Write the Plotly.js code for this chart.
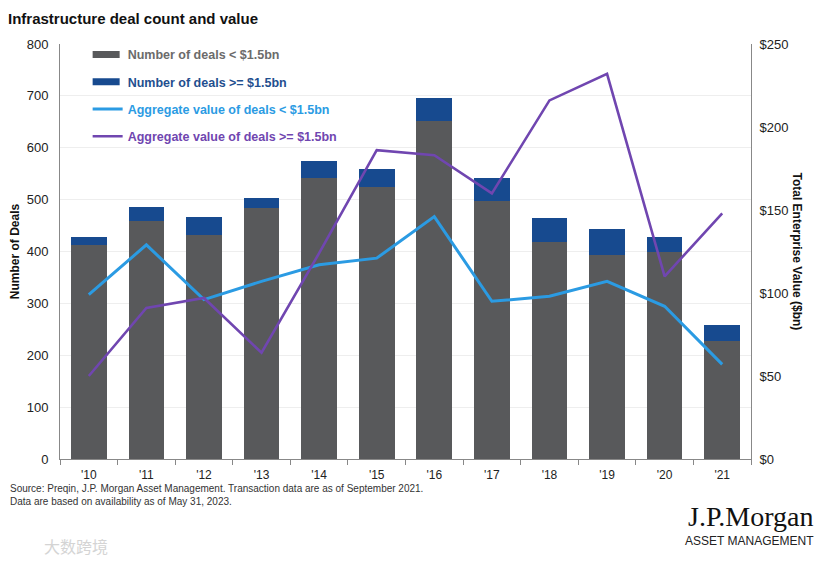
<!DOCTYPE html>
<html><head><meta charset="utf-8">
<script src="https://cdn.plot.ly/plotly-3.0.1.min.js"></script>
<style>body{margin:0;background:#fff}#chart{width:831px;height:563px}</style>
</head><body><div id="chart"></div>
<script>
var years = ["'10","'11","'12","'13","'14","'15","'16","'17","'18","'19","'20","'21"];
var dealsSmall = [413, 459, 432, 484, 541, 524, 652, 497, 419, 393, 400, 227];
var dealsLarge = [14, 27, 35, 20, 34, 36, 44, 45, 45, 50, 28, 31];
var valueSmall = [99, 129, 96, 107, 117, 121, 146, 95, 98, 107, 92, 57];
var valueLarge = [50, 91, 97, 64, 124, 186, 183, 160, 216, 232, 110, 148];

var cGrey = '#58595b', cNavy = '#174a8f', cBlue = '#2b9be3', cPurple = '#7046b0';
function nm(t, c){ return '<b><span style="color:' + c + '">' + t + '</span></b>'; }

var traces = [
  {type:'bar', x:years, y:dealsSmall, name:nm('Number of deals &lt; $1.5bn','#6b6b6b'),
   marker:{color:cGrey}, width:0.62, legendgroup:'a'},
  {type:'bar', x:years, y:dealsLarge, name:nm('Number of deals &gt;= $1.5bn','#1f4f8f'),
   marker:{color:cNavy}, width:0.62, legendgroup:'b'},
  {type:'scatter', mode:'lines', x:years, y:valueSmall, yaxis:'y2', name:nm('Aggregate value of deals &lt; $1.5bn', cBlue),
   line:{color:cBlue, width:3}, legendgroup:'c'},
  {type:'scatter', mode:'lines', x:years, y:valueLarge, yaxis:'y2', name:nm('Aggregate value of deals &gt;= $1.5bn', cPurple),
   line:{color:cPurple, width:2.6}, legendgroup:'d'}
];

var font = 'Liberation Sans, Arial, sans-serif';
var layout = {
  width:831, height:563,
  margin:{l:60, r:80, t:44, b:104},
  paper_bgcolor:'#fff', plot_bgcolor:'#fff',
  barmode:'stack', bargap:0.38,
  font:{family:font, size:13, color:'#222'},
  showlegend:true,
  title:{text:'<b>Infrastructure deal count and value</b>', x:0.0096, xanchor:'left', y:0.966, yanchor:'middle',
         font:{family:font, size:15, color:'#111'}},
  legend:{x:0.04, y:1.01, xanchor:'left', yanchor:'top', bgcolor:'rgba(0,0,0,0)',
          traceorder:'grouped', tracegroupgap:8, font:{family:font, size:12.5}, itemwidth:30},
  xaxis:{type:'category', showline:true, linecolor:'#888', linewidth:1, ticks:'outside', tickson:'boundaries',
         ticklen:5, tickcolor:'#888', tickfont:{size:12, color:'#222'}, showgrid:false, ticklabelstandoff:5},
  yaxis:{range:[0,800], dtick:100, showline:true, linecolor:'#888', linewidth:1, showgrid:true, gridcolor:'#eeeeee',
         zeroline:false, ticks:'', tickfont:{size:13, color:'#222'}, ticklabelstandoff:8,
         title:{text:'<b>Number of Deals</b>', font:{size:12, color:'#111'}, standoff:4}},
  yaxis2:{range:[0,250], dtick:50, overlaying:'y', side:'right', showline:true, linecolor:'#888', linewidth:1,
          showgrid:false, zeroline:false, tickprefix:'$', tickfont:{size:13, color:'#222'}, ticklabelstandoff:5},
  annotations:[
    {text:'<b>Total Enterprise Value ($bn)</b>', textangle:90, xref:'paper', yref:'paper',
     x:(797-60)/691, y:0.5, xanchor:'center', yanchor:'middle', showarrow:false, font:{size:12, color:'#111'}},
    {text:'Source: Preqin, J.P. Morgan Asset Management. Transaction data are as of September 2021.', xref:'paper', yref:'paper',
     x:(8-60)/691, y:(459-488)/415, xanchor:'left', yanchor:'middle', showarrow:false, font:{size:10, color:'#333'}},
    {text:'Data are based on availability as of May 31, 2023.', xref:'paper', yref:'paper',
     x:(8-60)/691, y:(459-501)/415, xanchor:'left', yanchor:'middle', showarrow:false, font:{size:10, color:'#333'}},
    {text:'J.P.Morgan', xref:'paper', yref:'paper', x:(816-60)/691, y:(459-516)/415, xanchor:'right', yanchor:'middle',
     showarrow:false, font:{family:'Liberation Serif, DejaVu Serif, serif', size:28, color:'#111'}},
    {text:'ASSET MANAGEMENT', xref:'paper', yref:'paper', x:(816-60)/691, y:(459-541)/415, xanchor:'right', yanchor:'middle',
     showarrow:false, font:{family:font, size:12, color:'#222'}},
    {text:'大数跨境', xref:'paper', yref:'paper', x:(42-60)/691, y:(459-546)/415, xanchor:'left', yanchor:'middle',
     showarrow:false, font:{family:'Noto Sans CJK SC, sans-serif', size:16, color:'#d4d4d4'}}
  ]
};
Plotly.newPlot('chart', traces, layout, {displayModeBar:false, staticPlot:true}).then(function(gd){
  var items = gd.querySelectorAll('.legend .traces');
  for (var i = 0; i < 2 && i < items.length; i++) {
    var p = items[i].querySelector('.legendpoints path');
    if (p) p.setAttribute('d', 'M-15,3.5H12V-3.5H-15Z');
  }
});
</script></body></html>
